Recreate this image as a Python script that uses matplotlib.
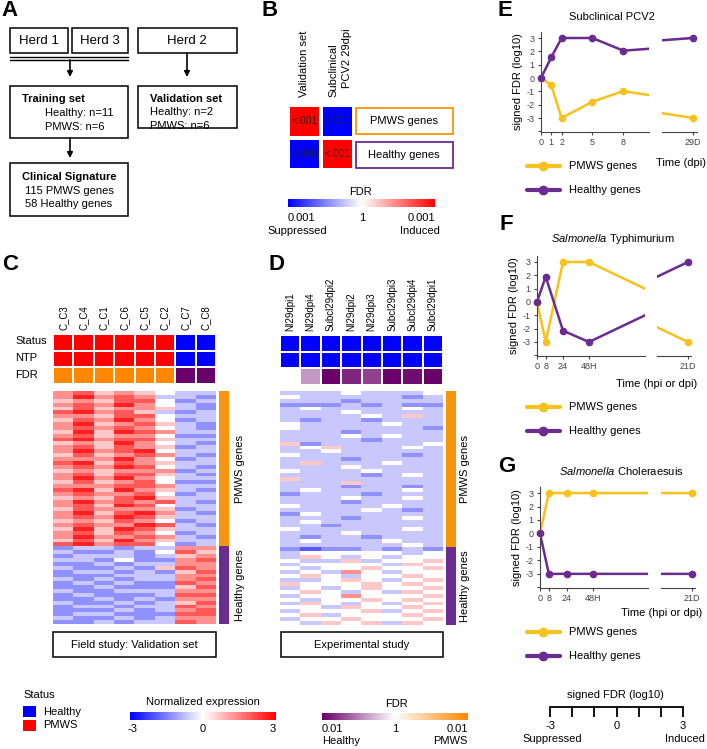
import numpy as np
import matplotlib
matplotlib.use('Agg')
import matplotlib.pyplot as plt
from matplotlib.colors import LinearSegmentedColormap, ListedColormap, Normalize
from matplotlib.cm import ScalarMappable
from matplotlib.patches import Rectangle

plt.rcParams['font.family'] = ['Liberation Sans', 'DejaVu Sans']
plt.rcParams['mathtext.fontset'] = 'custom'
plt.rcParams['mathtext.it'] = 'Liberation Sans:italic'
plt.rcParams['mathtext.rm'] = 'Liberation Sans'

W, H = 707, 749

# ---------------- data ----------------
# B: signed -log10 FDR (capped at 0.001)
b_signed = [[3, -3], [-3, 3]]
b_text = [['<.001', '<.001'], ['<.001', '<.001']]
b_rows = ['PMWS genes', 'Healthy genes']

# C / D annotation rows
c_samples = ['C_C3', 'C_C4', 'C_C1', 'C_C6', 'C_C5', 'C_C2', 'C_C7', 'C_C8']
c_status = [1, 1, 1, 1, 1, 1, 0, 0]
c_ntp = [1, 1, 1, 1, 1, 1, 0, 0]
c_fdr = [2, 2, 2, 2, 2, 2, -2, -2]
d_samples = ['NI29dpi1', 'NI29dpi4', 'Subcl29dpi2', 'NI29dpi2', 'NI29dpi3',
             'Subcl29dpi3', 'Subcl29dpi4', 'Subcl29dpi1']
d_status = [0, 0, 0, 0, 0, 0, 0, 0]
d_ntp = [0, 0, 0, 0, 0, 0, 0, 0]
d_fdr = [0, -0.8, -2, -1.7, -1.5, -2, -1.9, -2]

# heatmap rows, one digit per sample, value = (digit - 5) * 0.65
c_pmws_rows = [
    "78676544", "79787443", "67688534", "78797543", "68677643", "89786434",
    "77688544", "68797534", "79678643", "78787543", "69698744", "78677533",
    "89788644", "67697543", "78687634", "79789544", "68678743", "77797534",
    "89687644", "78798543", "67677734", "78688643", "79797544", "68678533",
    "77788744", "89697643", "78778534", "67689644", "79787843", "78698544",
    "68777634", "79689743", "78798644", "67687534", "78779843", "69698644",
    "78687534", "79778743", "68697644", "89788534"]
c_healthy_rows = [
    "34434477", "43343586", "34443467", "44353378", "33434477", "43343687",
    "34434368", "33344477", "43434478", "34343387", "33433368", "43344477",
    "34333488", "33434377", "43343468", "34434487", "33343478", "34433388",
    "43343477", "33434487"]
d_pmws_rows = [
    "44454445", "54444434", "44434444", "33343433", "45444454", "44454444",
    "44445464", "43443444", "54444544", "54444443", "44434444", "44454544",
    "44443444", "63444445", "45644454", "44544444", "54444434", "44434444",
    "46444544", "44454444", "54445444", "44443454", "64444444", "44464444",
    "44434434", "45444454", "34443444", "44454454", "44434444", "54444544",
    "44445434", "35444444", "44434454", "45444444", "44344444", "54444454",
    "44454444", "43443444", "45444544", "44444454"]
d_healthy_rows = [
    "32334343", "45555545", "46545455", "54464556", "45555465", "54556556",
    "45475455", "56545565", "44565456", "65556565", "45456556", "56545465",
    "45575556", "54556565", "46545456", "55465565", "45556456", "56455565",
    "45565556", "54656465"]

# E: subclinical PCV2 (29D drawn after the axis break)
e_pos = [0, 1, 2, 5, 8, 24.7]
e_labels = ['0', '1', '2', '5', '8', '29D']
e_pmws = [0, -0.53, -3, -1.78, -0.98, -3]
e_healthy = [0, 1.55, 3, 3, 2.05, 3]

# F / G: hours, 21D drawn after the axis break
fg_pos = [0, 8, 24, 48, 203]
fg_labels = ['0', '8', '24', '48H', '21D']
f_pmws = [0, -3, 3, 3, -3]
f_healthy = [0, 1.9, -2.15, -3, 3]
g_pmws = [0, 3, 3, 3, 3]
g_healthy = [0, -3, -3, -3, -3]

YEL = '#f7c21e'
PUR = '#6a2c91'
ORG = '#f7940f'
expr_cmap = LinearSegmentedColormap.from_list('expr', ['#0000ff', '#ffffff', '#ff0000'])
fdr_cmap = LinearSegmentedColormap.from_list('fdr', ['#6a006a', '#ffffff', '#ff8800'])
status_cmap = ListedColormap(['#0000ff', '#ff0000'])


def px(x0, y0, x1, y1):
    return [x0 / W, 1 - y1 / H, (x1 - x0) / W, (y1 - y0) / H]


def rows_to_vals(rows):
    return np.array([[(int(ch) - 5) * 0.65 for ch in r] for r in rows])


fig = plt.figure(figsize=(W / 100, H / 100), dpi=100)
ax0 = fig.add_axes([0, 0, 1, 1])
ax0.set_xlim(0, W)
ax0.set_ylim(H, 0)
ax0.axis('off')


def T(x, y, s, **kw):
    kw.setdefault('fontsize', 8)
    kw.setdefault('va', 'center')
    ax0.text(x, y, s, **kw)


def box(x0, y0, x1, y1, ec='black', lw=1.1):
    ax0.add_patch(Rectangle((x0, y0), x1 - x0, y1 - y0, fill=False, ec=ec, lw=lw))


def arrow(x, y0, y1):
    ax0.annotate('', xy=(x, y1), xytext=(x, y0),
                 arrowprops=dict(arrowstyle='-|>', color='black', lw=1.2,
                                 mutation_scale=8, shrinkA=0, shrinkB=0))


# panel letters
for lab, x, y in [('A', 10, 11), ('B', 270, 11), ('C', 10, 264), ('D', 277, 264),
                  ('E', 505, 11), ('F', 506, 225), ('G', 507, 467)]:
    T(x, y, lab, fontsize=16, fontweight='bold', ha='center')

# ---------------- A ----------------
box(10, 28, 68, 53)
box(72, 28, 128, 53)
box(138, 28, 237, 53)
T(39, 41, 'Herd 1', ha='center', fontsize=9.5)
T(100, 41, 'Herd 3', ha='center', fontsize=9.5)
T(187, 41, 'Herd 2', ha='center', fontsize=9.5)
ax0.plot([10, 128], [57.3, 57.3], color='black', lw=1)
ax0.plot([10, 128], [59.5, 59.5], color='black', lw=1)
arrow(70, 60, 77)
arrow(187, 53, 77)
box(10, 86, 128, 138)
T(22, 99, 'Training set', fontweight='bold')
T(45, 113, 'Healthy: n=11')
T(45, 127, 'PMWS: n=6')
box(138, 86, 237, 128)
T(186, 99, 'Validation set', fontweight='bold', ha='center')
T(150, 112, 'Healthy: n=2')
T(150, 126, 'PMWS: n=6')
arrow(70, 138, 158)
box(10, 163, 128, 216)
T(69, 177, 'Clinical Signature', fontweight='bold', ha='center')
T(69, 191, '115 PMWS genes', ha='center')
T(69, 204, '58 Healthy genes', ha='center')

# ---------------- B ----------------
axb = fig.add_axes(px(288, 105, 354, 170))
axb.pcolormesh(np.arange(3), np.arange(3), np.array(b_signed), cmap=expr_cmap,
               vmin=-3, vmax=3, edgecolors='white', linewidth=1.5)
for i in range(2):
    for j in range(2):
        axb.text(j + 0.5, i + 0.5, b_text[i][j], ha='center', va='center',
                 fontsize=7.5, color='#222222', alpha=0.85)
axb.set_xlim(0, 2)
axb.set_ylim(2, 0)
axb.axis('off')
T(304, 97, 'Validation set', rotation=90, ha='center', va='bottom')
T(333, 97, 'Subclinical', rotation=90, ha='center', va='bottom')
T(347, 88, 'PCV2 29dpi', rotation=90, ha='center', va='bottom')
box(356, 108, 453, 134, ec=ORG, lw=1.3)
box(356, 142, 453, 168, ec=PUR, lw=1.3)
T(404, 121, b_rows[0], ha='center')
T(404, 155, b_rows[1], ha='center')
caxb = fig.add_axes(px(288, 199, 435, 207))
cb = fig.colorbar(ScalarMappable(Normalize(-3, 3), expr_cmap), cax=caxb,
                  orientation='horizontal', ticks=[])
cb.outline.set_visible(False)
T(361, 192, 'FDR', ha='center')
T(288, 218, '0.001', ha='left')
T(362, 218, '1', ha='center')
T(435, 218, '0.001', ha='right')
T(297, 231, 'Suppressed', ha='center')
T(420, 231, 'Induced', ha='center')

# ---------------- C / D heatmaps ----------------
def annot(bx, samples, status, ntp, fdr):
    ax = fig.add_axes(px(*bx))
    xs = np.arange(9)
    ax.pcolormesh(xs, [0, 1], [status], cmap=status_cmap, vmin=0, vmax=1,
                  edgecolors='white', linewidth=1.3)
    ax.pcolormesh(xs, [1, 2], [ntp], cmap=status_cmap, vmin=0, vmax=1,
                  edgecolors='white', linewidth=1.3)
    ax.pcolormesh(xs, [2, 3], [fdr], cmap=fdr_cmap, vmin=-2, vmax=2,
                  edgecolors='white', linewidth=1.3)
    ax.set_xlim(0, 8)
    ax.set_ylim(3, 0)
    ax.xaxis.tick_top()
    ax.set_xticks(np.arange(8) + 0.5)
    ax.set_xticklabels(samples, rotation=90, fontsize=7)
    ax.set_yticks([])
    ax.tick_params(length=0, pad=3)
    for s in ax.spines.values():
        s.set_visible(False)


def body(bx, pm_rows, he_rows, barx, labx):
    ax = fig.add_axes(px(*bx))
    vals = np.vstack([rows_to_vals(pm_rows), rows_to_vals(he_rows)])
    ax.imshow(vals, cmap=expr_cmap, vmin=-3, vmax=3, aspect='auto',
              interpolation='nearest')
    ax.axis('off')
    y0, y1 = bx[1], bx[3]
    split = y0 + (y1 - y0) * len(pm_rows) / (len(pm_rows) + len(he_rows))
    ax0.add_patch(Rectangle((barx, y0), 10, split - y0, color=ORG, lw=0))
    ax0.add_patch(Rectangle((barx, split), 10, y1 - split, color=PUR, lw=0))
    T(labx, (y0 + split) / 2, 'PMWS genes', rotation=90, ha='center')
    T(labx, (split + y1) / 2, 'Healthy genes', rotation=90, ha='center')


annot((53, 334, 216, 384), c_samples, c_status, c_ntp, c_fdr)
annot((280, 335, 443, 385), d_samples, d_status, d_ntp, d_fdr)
T(15, 341, 'Status')
T(15, 358, 'NTP')
T(15, 375, 'FDR')
body((53, 391, 216, 624), c_pmws_rows, c_healthy_rows, 219, 240)
body((280, 391, 443, 625), d_pmws_rows, d_healthy_rows, 446, 465)
box(53, 632, 216, 657)
T(134.5, 645, 'Field study: Validation set', ha='center')
box(281, 632, 443, 657)
T(362, 645, 'Experimental study', ha='center')

# bottom legends
T(23, 695, 'Status')
ax0.add_patch(Rectangle((23, 706), 13, 11, color='#0000ff', lw=0))
ax0.add_patch(Rectangle((23, 720), 13, 11, color='#ff0000', lw=0))
T(43, 712, 'Healthy')
T(43, 725, 'PMWS')
cax1 = fig.add_axes(px(130, 712, 276, 720))
cb1 = fig.colorbar(ScalarMappable(Normalize(-3, 3), expr_cmap), cax=cax1,
                   orientation='horizontal', ticks=[])
cb1.outline.set_visible(False)
T(203, 702, 'Normalized expression', ha='center')
T(133, 729, '-3', ha='center')
T(203, 729, '0', ha='center')
T(273, 729, '3', ha='center')
cax2 = fig.add_axes(px(322, 713, 468, 720))
cb2 = fig.colorbar(ScalarMappable(Normalize(-2, 2), fdr_cmap), cax=cax2,
                   orientation='horizontal', ticks=[])
cb2.outline.set_visible(False)
T(396, 704, 'FDR', ha='center')
T(322, 729, '0.01', ha='left')
T(395, 729, '1', ha='center')
T(468, 729, '0.01', ha='right')
T(322, 741, 'Healthy', ha='left')
T(468, 741, 'PMWS', ha='right')

# ---------------- E / F / G ----------------
def timecourse(b1, b2, pos, pmws, healthy, xl1, xl2, labels, nleft):
    ax1 = fig.add_axes(px(*b1))
    ax2 = fig.add_axes(px(*b2))
    for ax, xl in ((ax1, xl1), (ax2, xl2)):
        for vals, col in ((pmws, YEL), (healthy, PUR)):
            ax.plot(pos, vals, color=col, lw=1.8)
            pts = [(p, v) for p, v in zip(pos, vals) if xl[0] <= p <= xl[1]]
            ax.plot([p for p, _ in pts], [v for _, v in pts], 'o', color=col,
                    ms=4.5, clip_on=False, zorder=3)
        ax.set_xlim(xl)
        ax.set_ylim(-4.05, 3.45)
        ax.spines[['top', 'right']].set_visible(False)
        for s in ax.spines.values():
            s.set_color('#444444')
            s.set_linewidth(0.8)
        ax.tick_params(labelsize=6.5, colors='#444444', length=2.5, width=0.8, pad=2)
    ax2.spines['left'].set_visible(False)
    ax2.set_yticks([])
    ax1.set_yticks(range(-4, 4))
    ax1.set_yticklabels([''] + [str(v) for v in range(-3, 4)])
    ax1.set_xticks(pos[:nleft])
    ax1.set_xticklabels(labels[:nleft])
    ax2.set_xticks(pos[nleft:])
    ax2.set_xticklabels(labels[nleft:])
    ax1.set_ylabel('signed FDR (log10)', fontsize=8, labelpad=3)


def legend(y0):
    for y, col, lab in ((y0, YEL, 'PMWS genes'), (y0 + 24, PUR, 'Healthy genes')):
        ax0.plot([527, 560], [y, y], color=col, lw=3, solid_capstyle='round')
        ax0.plot([543], [y], 'o', color=col, ms=6)
        T(569, y, lab)


T(612, 17, 'Subclinical PCV2', ha='center')
timecourse((541, 32, 649, 132), (662, 32, 697, 132), e_pos, e_pmws, e_healthy,
           (0, 10.5), (21.7, 25.1), e_labels, 5)
T(706, 163, 'Time (dpi)', ha='right')
legend(166)

T(613, 239, r'$\it{Salmonella}$ Typhimurium', ha='center')
timecourse((537, 256, 645, 356), (657, 256, 691, 356), fg_pos, f_pmws, f_healthy,
           (0, 99.7), (174.4, 205.8), fg_labels, 4)
T(697, 384, 'Time (hpi or dpi)', ha='right')
legend(407)

T(621, 471, r'$\it{Salmonella}$ Choleraesuis', ha='center')
timecourse((540, 487, 648, 588), (661, 487, 695, 588), fg_pos, g_pmws, g_healthy,
           (0, 97.8), (174.9, 205.7), fg_labels, 4)
T(702, 613, 'Time (hpi or dpi)', ha='right')
legend(632)

# signed FDR scale
T(615, 695, 'signed FDR (log10)', ha='center')
axs = fig.add_axes(px(550, 706, 683, 707))
axs.set_xlim(-3, 3)
axs.set_yticks([])
for s in ('top', 'left', 'right'):
    axs.spines[s].set_visible(False)
axs.spines['bottom'].set_linewidth(1.3)
axs.set_xticks(range(-3, 4))
axs.set_xticklabels(['-3', '', '', '0', '', '', '3'])
axs.tick_params(direction='out', length=7, width=1.3, labelsize=8, pad=3)
axs.patch.set_alpha(0)
T(552, 739, 'Suppressed', ha='center')
T(685, 739, 'Induced', ha='center')

fig.savefig('out.png', dpi=100)
